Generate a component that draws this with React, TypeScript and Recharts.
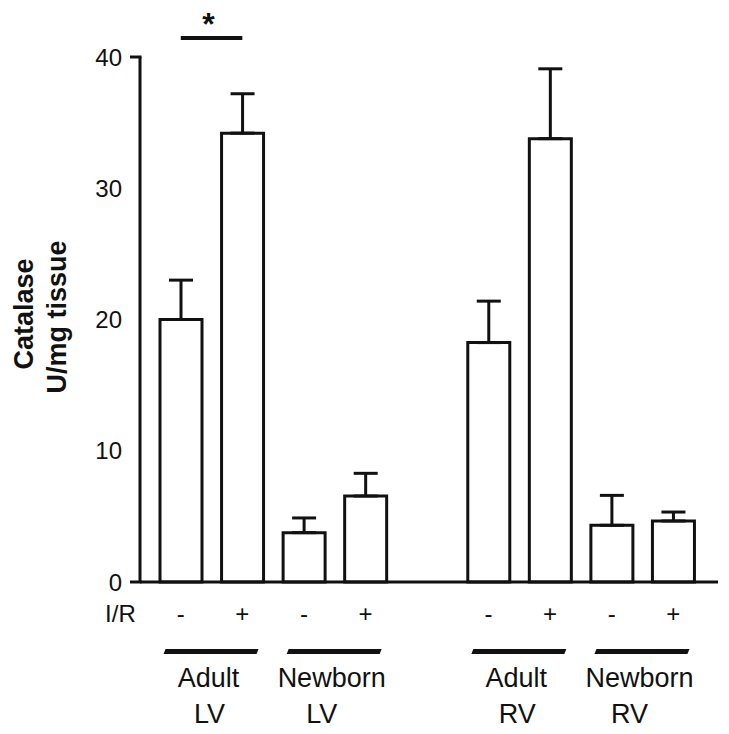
import React from 'react';
import { BarChart, Bar, XAxis, YAxis, ErrorBar, ReferenceLine } from 'recharts';

const categories = ['Adult LV -', 'Adult LV +', 'Newborn LV -', 'Newborn LV +', 'gap', 'Adult RV -', 'Adult RV +', 'Newborn RV -', 'Newborn RV +'];
const irLabels = ['-', '+', '-', '+', '', '-', '+', '-', '+'];
const catalaseMean = [20.0, 34.2, 3.76, 6.55, null, 18.24, 33.78, 4.32, 4.65];
const catalaseSem = [3.0, 3.0, 1.12, 1.73, null, 3.16, 5.32, 2.28, 0.68];
const groupNames = ['Adult', 'Newborn', 'Adult', 'Newborn'];
const groupSides = ['LV', 'LV', 'RV', 'RV'];
const yTicks = [0, 10, 20, 30, 40];
const sigLevel = 41.45;
const sigPair = ['Adult LV -', 'Adult LV +'];

const data = categories.map((c, i) => ({
  name: c,
  mean: catalaseMean[i],
  sem: catalaseSem[i] == null ? [0, 0] : [0, catalaseSem[i] as number],
}));

const W = 729;
const H = 734;
const MARGIN = { top: 57, right: 11, bottom: 0, left: 0 };
const Y_AXIS_W = 140;
const X_AXIS_H = 152;
const PAD = { left: 10, right: 14 };
const PLOT_W = W - MARGIN.left - MARGIN.right - Y_AXIS_W;
const SLOT = (PLOT_W - PAD.left - PAD.right) / categories.length;
const INK = '#111';
const FONT = '"Liberation Sans", Arial, Helvetica, sans-serif';

function XTick(props: any) {
  const { x, y, payload } = props;
  const i = payload.index;
  const label = irLabels[i];
  const els: any[] = [];
  els.push(
    <text key="l" x={x} y={y + 40} textAnchor="middle" fontSize={24} fill={INK} fontFamily={FONT}>{label}</text>
  );
  if (i === 0) {
    els.push(
      <text key="ir" x={x - 45} y={y + 40} textAnchor="end" fontSize={24} fill={INK} fontFamily={FONT}>I/R</text>
    );
  }
  if (label === '-') {
    const g = irLabels.slice(0, i).filter((s) => s === '-').length;
    const m = x + SLOT / 2;
    const t = y + 67;
    const b = y + 72;
    const name = groupNames[g];
    const shift2 = name === 'Newborn' ? -13 : -2;
    els.push(
      <path key="u" d={`M${m - 46},${t} L${m + 47},${t} L${m + 45},${b} L${m - 48},${b} Z`} fill={INK} />
    );
    els.push(
      <text key="g1" x={m - 3} y={y + 105} textAnchor="middle" fontSize={27} fill={INK} fontFamily={FONT}>{name}</text>
    );
    els.push(
      <text key="g2" x={m + shift2} y={y + 141} textAnchor="middle" fontSize={27} fill={INK} fontFamily={FONT}>{groupSides[g]}</text>
    );
  }
  return <g>{els}</g>;
}

function YTick(props: any) {
  const { x, y, payload } = props;
  const v = payload.value;
  const axisX = MARGIN.left + Y_AXIS_W;
  return (
    <g>
      <text x={x} y={y} dy="0.36em" textAnchor="end" fontSize={24} fill={INK} fontFamily={FONT}>{v}</text>
      {(v === 0 || v === 40) && (
        <line x1={x + 8} x2={axisX + 1.5} y1={y} y2={y} stroke={INK} strokeWidth={3} />
      )}
    </g>
  );
}

function YLabel() {
  return (
    <g fontFamily={FONT} fontWeight="bold" fontSize={27} fill={INK}>
      <text x={33} y={314} textAnchor="middle" transform="rotate(-90 33 314)">Catalase</text>
      <text x={66} y={317} textAnchor="middle" transform="rotate(-90 66 317)">U/mg tissue</text>
    </g>
  );
}

function SigLabel(props: any) {
  const vb = props.viewBox || {};
  const cx = (vb.x ?? 0) + (vb.width ?? 0) / 2;
  const cy = vb.y ?? 0;
  return (
    <text x={cx - 3} y={cy - 3} textAnchor="middle" fontSize={32} fontWeight="bold" fill={INK} fontFamily={FONT}>*</text>
  );
}

export default function App() {
  return (
    <div style={{ position: 'absolute', left: 0, top: 0, width: W, height: H, background: '#fff' }}>
      <BarChart width={W} height={H} data={data} margin={MARGIN} barSize={42}>
        <XAxis
          dataKey="name"
          type="category"
          interval={0}
          height={X_AXIS_H}
          padding={PAD}
          axisLine={{ stroke: INK, strokeWidth: 3 }}
          tickLine={false}
          tickSize={0}
          tickMargin={0}
          tick={(p: any) => <XTick {...p} />}
        />
        <YAxis
          type="number"
          domain={[0, 40]}
          ticks={yTicks}
          width={Y_AXIS_W}
          axisLine={{ stroke: INK, strokeWidth: 3 }}
          tickLine={false}
          tickSize={10}
          tickMargin={8}
          tick={(p: any) => <YTick {...p} />}
          label={() => <YLabel />}
        />
        <Bar dataKey="mean" fill="#fff" stroke={INK} strokeWidth={3} isAnimationActive={false}>
          <ErrorBar dataKey="sem" width={12} stroke={INK} strokeWidth={3} direction="y" isAnimationActive={false} />
        </Bar>
        <ReferenceLine
          segment={[{ x: sigPair[0], y: sigLevel }, { x: sigPair[1], y: sigLevel }]}
          stroke={INK}
          strokeWidth={4}
          ifOverflow="visible"
          label={(p: any) => <SigLabel {...p} />}
        />
      </BarChart>
    </div>
  );
}
